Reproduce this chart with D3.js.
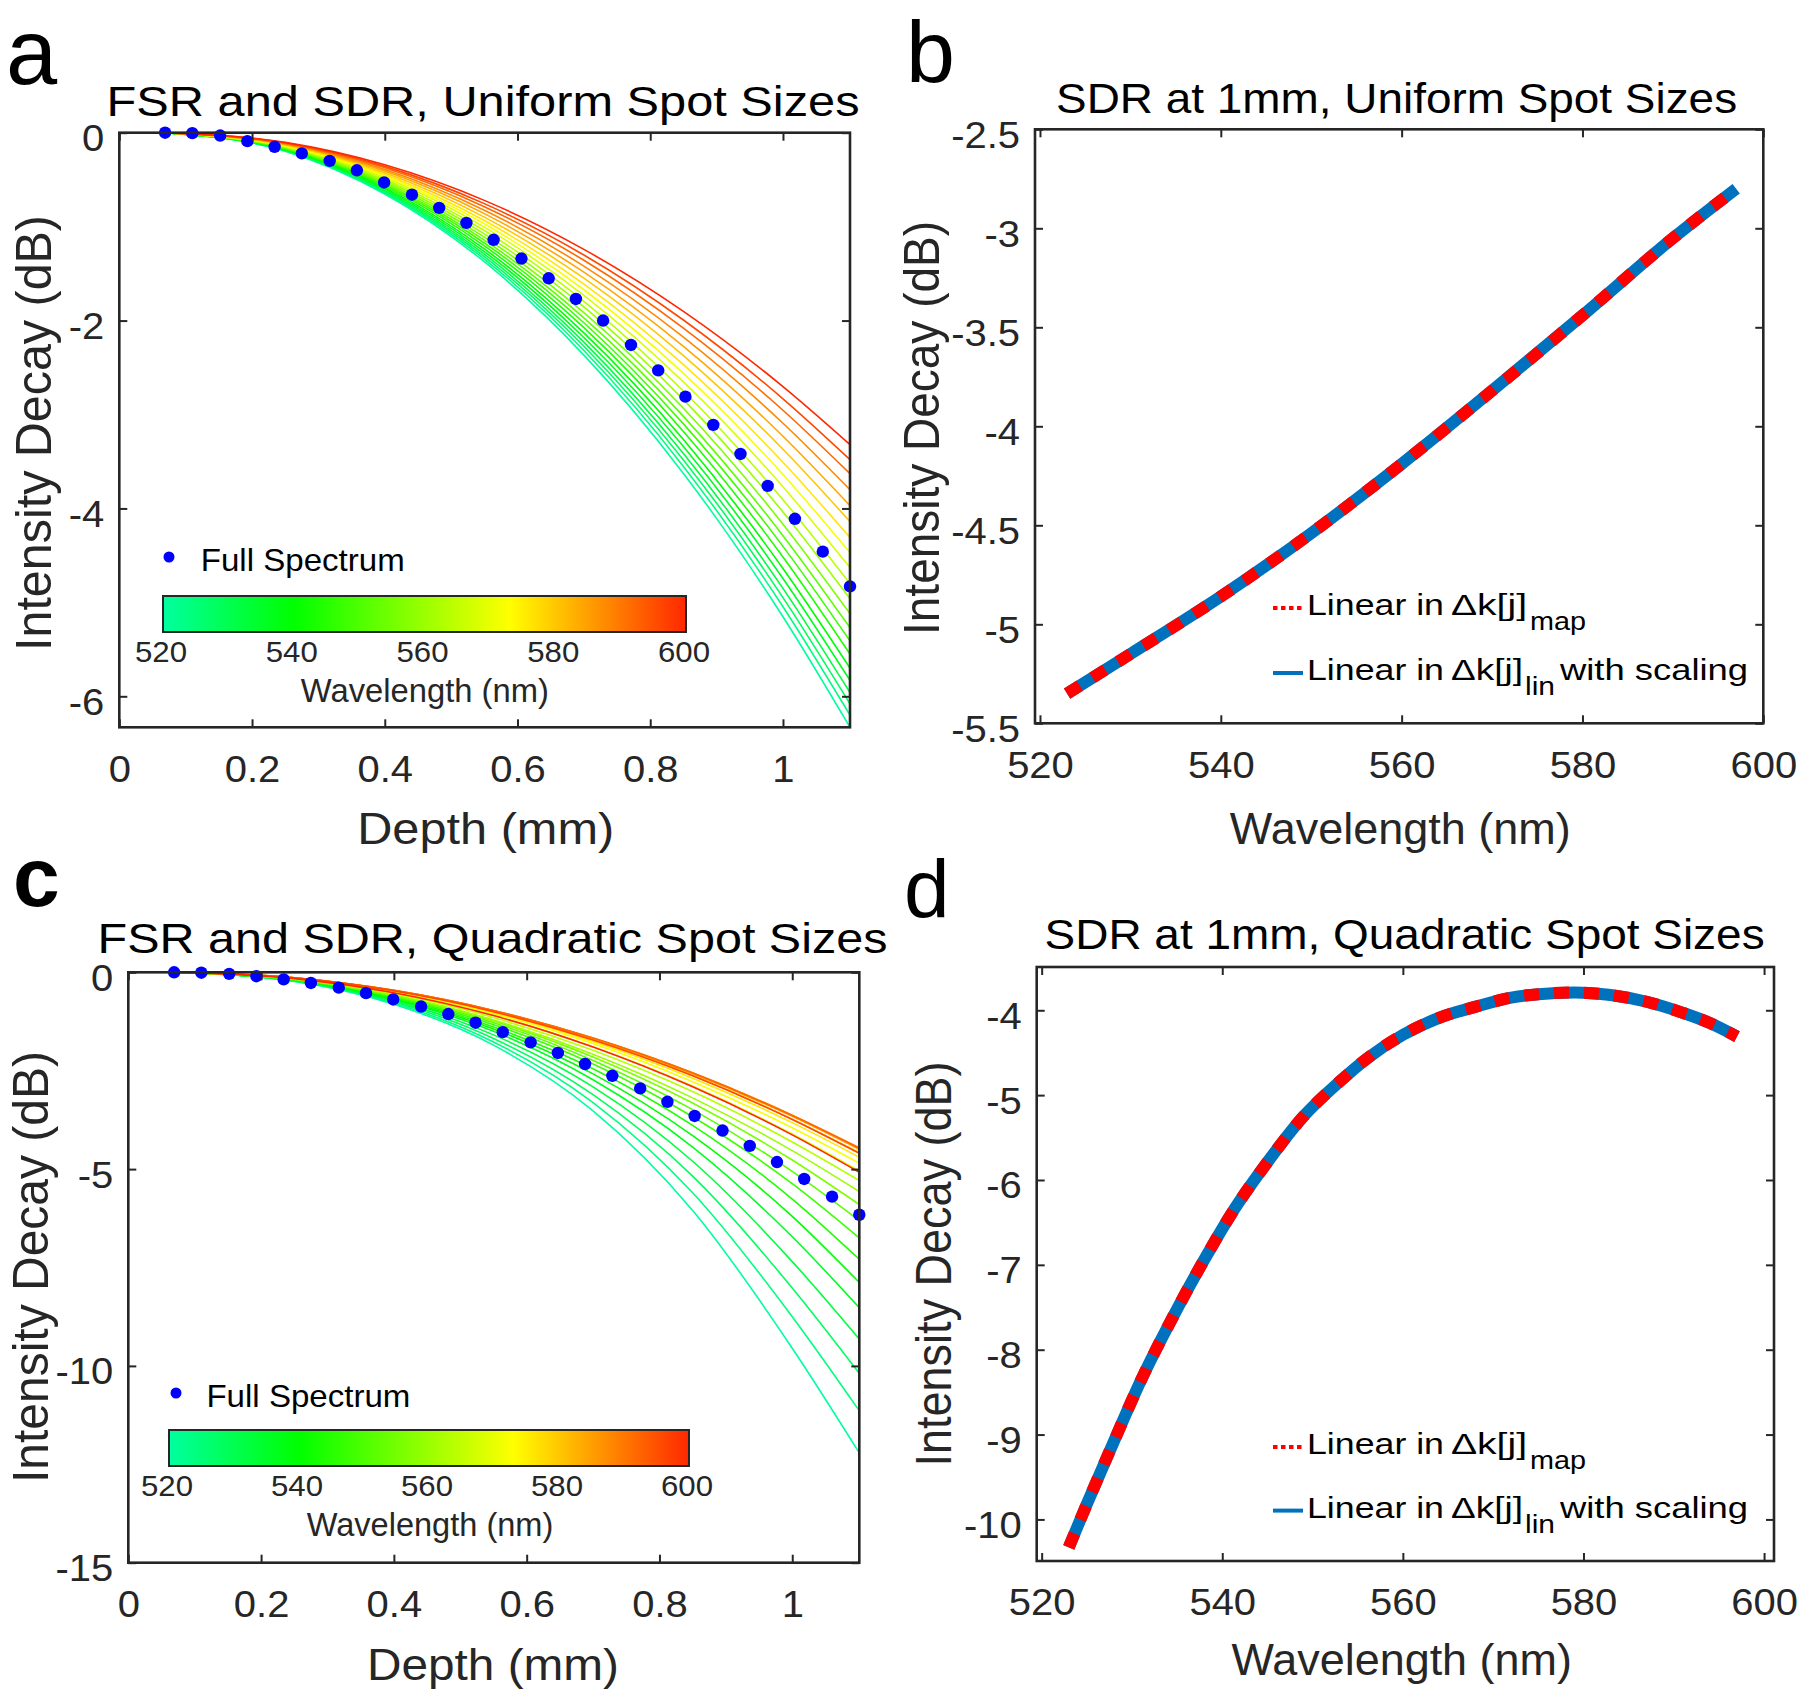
<!DOCTYPE html>
<html><head><meta charset="utf-8">
<script src="https://cdn.jsdelivr.net/npm/d3@7"></script>
<style>
html,body{margin:0;padding:0;background:#fff;}
svg{display:block;font-family:"Liberation Sans",Arial,Helvetica,sans-serif;}
</style></head><body>
<svg id="fig" width="1800" height="1693"></svg>
<script>
// ---------------- data ----------------
const wavelengths = [520,524,528,532,536,540,544,548,552,556,560,564,568,572,576,580,584,588,592,596,600];
// panel a: decay at the deepest point (1.1 mm) for each wavelength, and the common depth profile
const depthGrid = [0.069,0.25,0.4,0.55,0.7,0.85,1.0,1.101];
const profileA  = [0,0.031,0.103,0.217,0.374,0.573,0.814,1];
const endA = [-6.33,-6.20,-6.08,-5.96,-5.83,-5.70,-5.55,-5.41,-5.27,-5.12,-4.96,-4.80,-4.63,-4.47,-4.31,-4.14,-3.97,-3.80,-3.63,-3.48,-3.32];
// full-spectrum dots (panels a and c)
const fullDepth = [0.069,0.110,0.152,0.193,0.234,0.275,0.317,0.358,0.399,0.441,0.482,0.523,0.564,0.606,0.647,0.688,0.729,0.771,0.812,0.853,0.895,0.936,0.977,1.018,1.060,1.101];
const fullA = [0,-0.005,-0.03,-0.09,-0.15,-0.22,-0.30,-0.40,-0.53,-0.66,-0.80,-0.96,-1.14,-1.34,-1.55,-1.77,-2.00,-2.26,-2.53,-2.81,-3.11,-3.42,-3.76,-4.11,-4.46,-4.83];
const fullC = [0,-0.01,-0.04,-0.10,-0.18,-0.27,-0.39,-0.53,-0.69,-0.87,-1.06,-1.28,-1.52,-1.78,-2.05,-2.33,-2.63,-2.95,-3.29,-3.65,-4.02,-4.41,-4.82,-5.25,-5.70,-6.16];
// panel c: each wavelength's curve at depthGrid
const linesC = [
 [0,-0.23,-0.81,-1.85,-3.52,-6.05,-9.55,-12.21],
 [0,-0.22,-0.78,-1.77,-3.31,-5.60,-8.75,-11.14],
 [0,-0.22,-0.75,-1.68,-3.11,-5.18,-8.02,-10.19],
 [0,-0.21,-0.72,-1.59,-2.91,-4.80,-7.35,-9.32],
 [0,-0.20,-0.69,-1.50,-2.73,-4.44,-6.72,-8.52],
 [0,-0.20,-0.67,-1.44,-2.58,-4.15,-6.20,-7.88],
 [0,-0.19,-0.64,-1.39,-2.45,-3.89,-5.76,-7.29],
 [0,-0.18,-0.62,-1.33,-2.33,-3.67,-5.37,-6.75],
 [0,-0.18,-0.60,-1.28,-2.24,-3.49,-5.06,-6.31],
 [0,-0.17,-0.59,-1.24,-2.15,-3.32,-4.77,-5.90],
 [0,-0.17,-0.57,-1.21,-2.08,-3.19,-4.53,-5.57],
 [0,-0.16,-0.54,-1.15,-1.98,-3.03,-4.31,-5.29],
 [0,-0.16,-0.52,-1.10,-1.89,-2.89,-4.11,-5.05],
 [0,-0.15,-0.50,-1.05,-1.81,-2.78,-3.95,-4.85],
 [0,-0.14,-0.48,-1.02,-1.76,-2.69,-3.82,-4.70],
 [0,-0.14,-0.47,-0.99,-1.71,-2.62,-3.73,-4.58],
 [0,-0.14,-0.46,-0.98,-1.68,-2.58,-3.66,-4.50],
 [0,-0.14,-0.46,-0.97,-1.67,-2.55,-3.63,-4.46],
 [0,-0.14,-0.46,-0.97,-1.67,-2.56,-3.64,-4.47],
 [0,-0.14,-0.47,-1.00,-1.72,-2.63,-3.74,-4.60],
 [0,-0.16,-0.52,-1.10,-1.90,-2.91,-4.13,-5.08]
];
// panel b: SDR at 1 mm, uniform spot sizes
const wlB  = [523,530,540,550,560,570,580,590,597];
const sdrB = [-5.35,-5.15,-4.86,-4.54,-4.19,-3.82,-3.44,-3.05,-2.80];
// panel d: SDR at 1 mm, quadratic spot sizes
const wlD  = [523,525,528,531,535,538,541,545,549,553,556,560,564,568,572,575,579,583,587,591,594,597];
const sdrD = [-10.33,-9.82,-9.08,-8.36,-7.52,-6.94,-6.40,-5.79,-5.25,-4.84,-4.57,-4.29,-4.09,-3.96,-3.85,-3.81,-3.79,-3.82,-3.90,-4.03,-4.15,-4.31];
// ticks
const depthTicks = [0,0.2,0.4,0.6,0.8,1];
const yTicksA = [0,-2,-4,-6];
const yTicksC = [0,-5,-10,-15];
const wlTicks = [520,540,560,580,600];
const yTicksB = [-2.5,-3,-3.5,-4,-4.5,-5,-5.5];
const yTicksD = [-4,-5,-6,-7,-8,-9,-10];
// colormap
const cmapStops  = [520,540,573,600];
const cmapColors = ["#00ffa0","#00ff00","#ffff00","#ff2800"];

// ---------------- drawing ----------------
const svg = d3.select("#fig");
svg.append("rect").attr("width",1800).attr("height",1693).attr("fill","#fff");
const AX = "#262626";
const cmap = d3.scaleLinear().domain(cmapStops).range(cmapColors).interpolate(d3.interpolateRgb);
const defs = svg.append("defs");
const grad = defs.append("linearGradient").attr("id","cbar").attr("x1","0%").attr("x2","100%");
cmapStops.forEach((s,i)=>grad.append("stop").attr("offset",((s-520)/80*100)+"%").attr("stop-color",cmapColors[i]));

function txt(g, s, x, y, o={}) {
  const sx = o.sx||1;
  const t = g.append("text").attr("transform",`translate(${x},${y}) scale(${sx},1)${o.rot?" rotate(-90)":""}`)
    .attr("font-size",o.fs).attr("fill",o.fill||"#000").attr("text-anchor",o.anchor||"start").text(s);
  if (o.len) t.attr("textLength",o.len/(o.rot?1:sx)).attr("lengthAdjust","spacingAndGlyphs");
  return t;
}

function axes(g, x, y, xt, yt) {
  const [x0,x1] = x.range(), [yb,yt0] = y.range();
  const fmt = d=>String(d);
  const mk = (ax, tr) => g.append("g").attr("transform",tr).call(ax)
      .attr("font-size",37).attr("font-family",null).attr("color",AX);
  const gb = mk(d3.axisBottom(x).tickValues(xt).tickSizeInner(-8).tickSizeOuter(0).tickPadding(28).tickFormat(fmt), `translate(0,${yb})`);
  mk(d3.axisTop(x).tickValues(xt).tickSizeInner(-8).tickSizeOuter(0).tickFormat(""), `translate(0,${yt0})`);
  const gl = mk(d3.axisLeft(y).tickValues(yt).tickSizeInner(-8).tickSizeOuter(0).tickPadding(15).tickFormat(fmt), `translate(${x0},0)`);
  mk(d3.axisRight(y).tickValues(yt).tickSizeInner(-8).tickSizeOuter(0).tickFormat(""), `translate(${x1},0)`);
  g.selectAll(".domain").remove();
  g.selectAll(".tick line").attr("stroke-width",2);
  gb.selectAll(".tick text").attr("transform","scale(1.08,1)");
  gl.selectAll(".tick text").attr("x",0).attr("dy",null).attr("y",18).attr("transform","translate(-15,0) scale(1.08,1)");
  g.append("rect").attr("x",x0).attr("y",yt0).attr("width",x1-x0).attr("height",yb-yt0)
    .attr("fill","none").attr("stroke",AX).attr("stroke-width",2.6);
}

function colorbar(g, x0, x1, yTop, h, labelY, nameY, nameX, nameLen) {
  const cb = d3.scaleLinear().domain([520,600]).range([x0,x1]);
  g.append("rect").attr("x",cb(520)).attr("y",yTop).attr("width",cb(600)-cb(520)).attr("height",h)
    .attr("fill","url(#cbar)").attr("stroke",AX).attr("stroke-width",2);
  wlTicks.forEach(t=>txt(g,String(t),cb(t)-2,labelY,{fs:30,sx:1.04,anchor:"middle",fill:AX}));
  txt(g,"Wavelength (nm)",nameX,nameY,{fs:33,anchor:"middle",fill:AX,len:nameLen});
}

function fullLegend(g, cx, cy, tx, ty) {
  g.append("circle").attr("cx",cx).attr("cy",cy).attr("r",5.5).attr("fill","#0000ff");
  txt(g,"Full Spectrum",tx,ty,{fs:32,len:204});
}

// ---------- panel a ----------
{
  const g = svg.append("g");
  const x = d3.scaleLinear().domain([0,1.101]).range([119.3,850]);
  const y = d3.scaleLinear().domain([-6.33,0]).range([727.3,132.7]);
  defs.append("clipPath").attr("id","clipA").append("rect").attr("x",119.3).attr("y",132.7).attr("width",730.7).attr("height",594.6);
  const line = d3.line().x((d,i)=>x(depthGrid[i])).y(d=>y(d)).curve(d3.curveMonotoneX);
  g.append("g").attr("clip-path","url(#clipA)").selectAll("path").data(wavelengths).join("path")
    .attr("d",(w,i)=>line(profileA.map(p=>p*endA[i]))).attr("fill","none")
    .attr("stroke",w=>cmap(w)).attr("stroke-width",1.6);
  g.append("g").selectAll("circle").data(fullA).join("circle")
    .attr("cx",(d,i)=>x(fullDepth[i])).attr("cy",d=>y(d)).attr("r",6.2).attr("fill","#0000ff");
  axes(g,x,y,depthTicks,yTicksA);
  fullLegend(g,169,557,200.7,571);
  colorbar(g,163,686,596,36,662,702,424.8,248);
  txt(g,"FSR and SDR, Uniform Spot Sizes",483,116,{fs:42.5,anchor:"middle",len:753});
  txt(g,"Depth (mm)",485.7,844,{fs:44,anchor:"middle",fill:AX,len:257});
  txt(g,"Intensity Decay (dB)",51,433,{fs:46,anchor:"middle",fill:AX,len:436,sx:1.09,rot:true});
  txt(g,"a",6,84,{fs:92});
}

// ---------- panel b ----------
function sdrPanel(g, x, y, wl, vals) {
  const line = d3.line().x((d,i)=>x(wl[i])).y(d=>y(d)).curve(d3.curveMonotoneX);
  g.append("path").attr("d",line(vals)).attr("fill","none").attr("stroke","#0072bd").attr("stroke-width",12);
  g.append("path").attr("d",line(vals)).attr("fill","none").attr("stroke","#ff0000").attr("stroke-width",12)
    .attr("stroke-dasharray","15 15");
}
function sdrLegend(g, y1, y2) {
  g.append("line").attr("x1",1273).attr("x2",1303).attr("y1",y1-7).attr("y2",y1-7)
    .attr("stroke","#ff0000").attr("stroke-width",4).attr("stroke-dasharray","4.5 3.5");
  g.append("line").attr("x1",1273).attr("x2",1303).attr("y1",y2-7).attr("y2",y2-7)
    .attr("stroke","#0072bd").attr("stroke-width",4);
  const o = {fs:30,sx:1.1};
  txt(g,"Linear in",1307,y1,{...o,len:137}); txt(g,"Δk[j]",1451,y1,{...o,len:76}); txt(g,"map",1530,y1+15,{fs:25,sx:1.1,len:56});
  txt(g,"Linear in",1307,y2,{...o,len:137}); txt(g,"Δk[j]",1451,y2,{...o,len:72}); txt(g,"lin",1525,y2+15,{fs:25,sx:1.1,len:30});
  txt(g,"with scaling",1560,y2,{...o,len:188});
}
{
  const g = svg.append("g");
  const x = d3.scaleLinear().domain([519.45,600]).range([1035,1763.3]);
  const y = d3.scaleLinear().domain([-5.5,-2.5]).range([723.3,129.3]);
  sdrPanel(g,x,y,wlB,sdrB);
  axes(g,x,y,wlTicks,yTicksB);
  sdrLegend(g,615,680);
  txt(g,"SDR at 1mm, Uniform Spot Sizes",1396.6,113,{fs:42.5,anchor:"middle",len:681});
  txt(g,"Wavelength (nm)",1400.3,844,{fs:44,anchor:"middle",fill:AX,len:341});
  txt(g,"Intensity Decay (dB)",939,428,{fs:46,anchor:"middle",fill:AX,len:414,sx:1.09,rot:true});
  txt(g,"b",906,82,{fs:88});
}

// ---------- panel c ----------
{
  const g = svg.append("g");
  const x = d3.scaleLinear().domain([0,1.101]).range([128.3,859.3]);
  const y = d3.scaleLinear().domain([-15,0]).range([1562.7,972.3]);
  defs.append("clipPath").attr("id","clipC").append("rect").attr("x",128.3).attr("y",972.3).attr("width",731).attr("height",590.4);
  const line = d3.line().x((d,i)=>x(depthGrid[i])).y(d=>y(d)).curve(d3.curveMonotoneX);
  g.append("g").attr("clip-path","url(#clipC)").selectAll("path").data(wavelengths).join("path")
    .attr("d",(w,i)=>line(linesC[i])).attr("fill","none")
    .attr("stroke",w=>cmap(w)).attr("stroke-width",1.6);
  g.append("g").selectAll("circle").data(fullC).join("circle")
    .attr("cx",(d,i)=>x(fullDepth[i])).attr("cy",d=>y(d)).attr("r",6.2).attr("fill","#0000ff");
  axes(g,x,y,depthTicks,yTicksC);
  fullLegend(g,176,1393,206.4,1407);
  colorbar(g,169,689,1430,36,1496,1536,430,246.5);
  txt(g,"FSR and SDR, Quadratic Spot Sizes",492.5,953,{fs:42.5,anchor:"middle",len:790});
  txt(g,"Depth (mm)",493,1680,{fs:44,anchor:"middle",fill:AX,len:252});
  txt(g,"Intensity Decay (dB)",48,1267,{fs:46,anchor:"middle",fill:AX,len:432,sx:1.09,rot:true});
  txt(g,"c",13,906,{fs:84,fill:"#000"}).attr("font-weight","bold");
}

// ---------- panel d ----------
{
  const g = svg.append("g");
  const x = d3.scaleLinear().domain([519.45,601.1]).range([1036.7,1774]);
  const y = d3.scaleLinear().domain([-10.49,-3.49]).range([1561,967]);
  sdrPanel(g,x,y,wlD,sdrD);
  axes(g,x,y,wlTicks,yTicksD);
  sdrLegend(g,1454,1517.6);
  txt(g,"SDR at 1mm, Quadratic Spot Sizes",1404.6,949,{fs:42.5,anchor:"middle",len:720});
  txt(g,"Wavelength (nm)",1401.7,1675,{fs:44,anchor:"middle",fill:AX,len:340.6});
  txt(g,"Intensity Decay (dB)",950.5,1264,{fs:46,anchor:"middle",fill:AX,len:405,sx:1.09,rot:true});
  txt(g,"d",904,917,{fs:82});
}
</script>
</body></html>
